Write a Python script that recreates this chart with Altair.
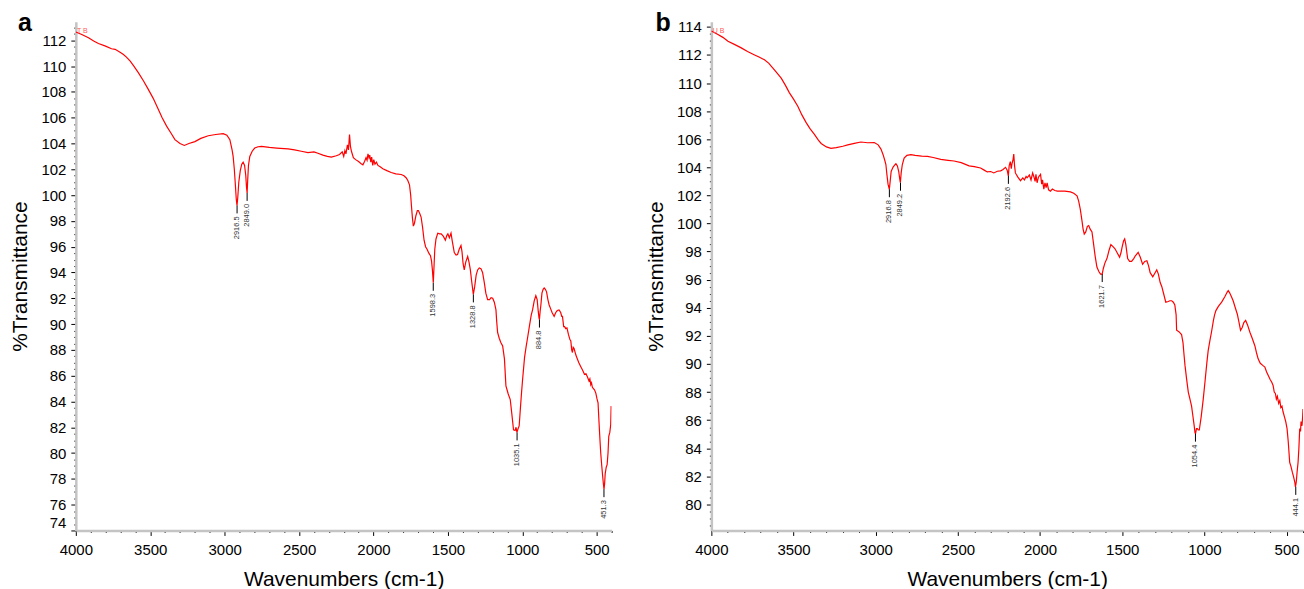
import math
import altair as alt
import pandas as pd

FONT = "Liberation Sans"

# ---- spectrum a : (wavenumber, %T) ----
a_spectrum = [
    (4000, 112.65), (3960, 112.45), (3915, 112.2), (3880, 111.95), (3848, 111.75), (3800, 111.55),
    (3760, 111.35), (3736, 111.3), (3700, 111.05), (3680, 110.9), (3660, 110.7), (3636, 110.4),
    (3610, 110.0), (3580, 109.5), (3545, 108.85), (3513, 108.2), (3480, 107.5), (3446, 106.65),
    (3420, 106.0), (3390, 105.35), (3360, 104.8), (3334, 104.3), (3300, 104.0), (3271, 103.85),
    (3240, 104.0), (3200, 104.15), (3160, 104.4), (3110, 104.6), (3060, 104.7), (3010, 104.77),
    (2985, 104.65), (2965, 104.3), (2950, 103.5), (2943, 103.0), (2935, 102.0), (2928, 100.8),
    (2922, 99.7), (2917, 99.2), (2912, 99.8), (2905, 101.0), (2895, 101.9), (2885, 102.4),
    (2876, 102.55), (2866, 102.3), (2858, 101.5), (2853, 100.6), (2849, 100.17), (2845, 101.2),
    (2840, 102.3), (2831, 103.0), (2815, 103.4), (2798, 103.65), (2775, 103.75), (2753, 103.78),
    (2700, 103.7), (2650, 103.65), (2600, 103.6), (2574, 103.58), (2530, 103.5), (2485, 103.4),
    (2440, 103.3), (2400, 103.35), (2373, 103.25), (2340, 103.1), (2310, 103.0), (2283, 102.95),
    (2250, 103.05), (2228, 103.15), (2210, 103.35), (2200, 103.0), (2192, 103.45), (2185, 103.2),
    (2175, 103.9), (2168, 103.5), (2161, 104.7), (2155, 103.8), (2148, 103.4), (2135, 102.9),
    (2120, 102.75), (2100, 102.6), (2085, 102.45), (2071, 102.35), (2060, 102.6), (2050, 102.9),
    (2043, 102.7), (2037, 103.2), (2030, 102.9), (2025, 103.1), (2018, 102.55), (2012, 102.95),
    (2005, 102.3), (1998, 102.75), (1990, 102.4), (1980, 102.55), (1970, 102.3), (1955, 102.2),
    (1937, 102.05), (1910, 101.9), (1881, 101.75), (1850, 101.65), (1814, 101.6), (1795, 101.5),
    (1781, 101.35), (1770, 101.15), (1758, 100.8), (1750, 100.0), (1745, 99.2), (1738, 98.2),
    (1732, 97.6), (1725, 97.8), (1715, 98.4), (1705, 98.8), (1698, 98.8), (1690, 98.6),
    (1680, 98.3), (1670, 97.5), (1660, 96.5), (1650, 96.0), (1640, 95.8), (1628, 95.5),
    (1617, 95.3), (1610, 94.9), (1604, 94.2), (1598, 93.2), (1593, 94.5), (1588, 95.8),
    (1580, 96.6), (1568, 97.05), (1555, 97.0), (1545, 97.0), (1530, 96.8), (1517, 96.5),
    (1508, 96.85), (1500, 97.0), (1490, 96.7), (1479, 97.05), (1470, 96.4), (1457, 95.55),
    (1445, 95.35), (1435, 95.4), (1424, 95.8), (1412, 96.1), (1405, 95.6), (1398, 94.7),
    (1390, 94.2), (1380, 94.8), (1367, 95.25), (1358, 94.8), (1349, 94.2), (1340, 93.3),
    (1329, 92.3), (1320, 92.9), (1310, 93.8), (1300, 94.2), (1289, 94.35), (1278, 94.3),
    (1267, 94.0), (1255, 93.2), (1245, 92.4), (1233, 91.9), (1220, 91.9), (1210, 92.05),
    (1199, 92.0), (1188, 91.7), (1177, 91.1), (1172, 90.2), (1166, 89.35), (1155, 88.9),
    (1145, 88.6), (1132, 88.3), (1120, 87.3), (1110, 85.2), (1095, 84.6), (1081, 84.15),
    (1070, 83.0), (1059, 81.8), (1048, 81.75), (1042, 82.0), (1036, 81.6), (1028, 81.9),
    (1021, 82.1), (1012, 83.6), (1005, 84.7), (998, 85.7), (985, 87.4), (975, 88.2),
    (965, 88.9), (950, 90.0), (940, 90.7), (931, 91.1), (920, 91.8), (909, 92.2),
    (900, 91.9), (893, 91.0), (888, 90.5), (885, 90.35), (880, 91.0), (875, 91.5),
    (868, 92.4), (860, 92.7), (853, 92.8), (845, 92.7), (837, 92.5), (828, 91.9),
    (820, 91.5), (810, 91.2), (800, 90.9), (793, 90.75), (786, 90.6), (775, 90.9),
    (765, 91.05), (753, 91.1), (742, 90.9), (735, 90.6), (730, 90.6), (722, 89.8),
    (716, 89.8), (708, 89.65), (700, 89.7), (690, 89.2), (680, 88.8), (674, 88.7),
    (668, 88.0), (663, 87.8), (658, 88.2), (652, 88.1), (640, 87.6), (630, 87.3),
    (620, 87.0), (607, 86.7), (598, 86.5), (590, 86.3), (582, 86.1), (572, 86.15),
    (562, 85.9), (552, 85.6), (546, 85.75), (540, 85.3), (535, 85.45), (529, 85.1),
    (522, 85.0), (515, 84.9), (506, 84.65), (498, 84.2), (491, 83.9), (485, 82.5),
    (478, 81.0), (473, 80.0), (466, 79.0), (460, 78.2), (455, 77.6), (451, 77.2),
    (447, 77.6), (443, 78.4), (436, 78.9), (430, 79.1), (424, 80.0), (419, 81.3),
    (412, 81.6), (406, 82.2), (403, 83.6), (400, 83.6),
]

# ---- spectrum b ----
b_spectrum = [
    (4000, 113.7), (3960, 113.45), (3930, 113.25), (3899, 112.97), (3860, 112.75), (3818, 112.5),
    (3780, 112.25), (3737, 112.0), (3710, 111.85), (3677, 111.65), (3650, 111.4), (3636, 111.2),
    (3610, 110.85), (3575, 110.35), (3550, 109.85), (3525, 109.3), (3500, 108.85), (3474, 108.35),
    (3450, 107.75), (3424, 107.2), (3400, 106.75), (3373, 106.35), (3350, 105.95), (3332, 105.7),
    (3300, 105.45), (3272, 105.35), (3240, 105.4), (3200, 105.5), (3170, 105.6), (3130, 105.7),
    (3090, 105.8), (3050, 105.75), (3009, 105.76), (2985, 105.6), (2968, 105.3), (2955, 104.9),
    (2945, 104.5), (2938, 104.2), (2932, 103.5), (2925, 102.8), (2917, 102.44), (2912, 103.0),
    (2906, 103.7), (2895, 104.0), (2885, 104.15), (2877, 104.25), (2868, 104.1), (2860, 103.7),
    (2854, 103.2), (2850, 102.9), (2845, 103.6), (2838, 104.2), (2827, 104.65), (2810, 104.85),
    (2786, 104.9), (2760, 104.85), (2720, 104.8), (2685, 104.78), (2650, 104.7), (2604, 104.57),
    (2560, 104.5), (2523, 104.45), (2480, 104.33), (2432, 104.1), (2400, 104.05), (2362, 103.95),
    (2340, 103.8), (2321, 103.67), (2300, 103.7), (2281, 103.6), (2260, 103.72), (2240, 103.75),
    (2225, 103.85), (2210, 104.0), (2200, 103.8), (2193, 103.39), (2188, 104.1), (2181, 104.4),
    (2175, 103.9), (2171, 104.25), (2165, 104.5), (2160, 104.95), (2155, 104.1), (2150, 103.6),
    (2135, 103.3), (2119, 103.05), (2105, 103.25), (2095, 103.1), (2085, 103.35), (2079, 103.25),
    (2065, 103.45), (2055, 103.1), (2045, 103.6), (2038, 103.35), (2030, 103.0), (2025, 103.5),
    (2018, 102.9), (2010, 103.3), (1997, 103.5), (1990, 102.8), (1985, 103.1), (1977, 102.45),
    (1970, 102.9), (1963, 102.55), (1957, 102.9), (1948, 102.4), (1937, 102.3), (1925, 102.45),
    (1910, 102.35), (1895, 102.3), (1876, 102.3), (1850, 102.3), (1815, 102.25), (1795, 102.15),
    (1775, 101.97), (1765, 101.6), (1755, 101.0), (1745, 100.2), (1738, 99.6), (1731, 99.25),
    (1722, 99.4), (1712, 99.8), (1704, 99.85), (1695, 99.6), (1684, 99.4), (1675, 98.6),
    (1665, 97.7), (1654, 96.9), (1643, 96.6), (1632, 96.4), (1622, 96.4), (1615, 96.8),
    (1605, 97.2), (1593, 97.5), (1580, 98.1), (1569, 98.5), (1556, 98.35), (1544, 98.2),
    (1530, 97.9), (1516, 97.6), (1508, 97.9), (1501, 98.3), (1492, 98.75), (1485, 98.9),
    (1478, 98.5), (1467, 97.5), (1455, 97.3), (1443, 97.3), (1430, 97.5), (1420, 97.7),
    (1403, 97.95), (1390, 97.6), (1376, 97.1), (1363, 97.3), (1350, 97.35), (1340, 97.0),
    (1330, 96.5), (1314, 96.2), (1300, 96.5), (1290, 96.7), (1280, 96.4), (1269, 95.8),
    (1259, 95.5), (1248, 95.0), (1235, 94.4), (1220, 94.45), (1210, 94.5), (1199, 94.5),
    (1189, 94.4), (1180, 94.2), (1172, 93.5), (1169, 92.4), (1155, 92.3), (1139, 92.1),
    (1130, 91.5), (1125, 90.8), (1118, 89.9), (1108, 88.9), (1098, 88.0), (1090, 87.6),
    (1078, 87.0), (1070, 86.3), (1062, 85.6), (1057, 85.1), (1054, 85.04), (1048, 85.4),
    (1043, 85.4), (1037, 85.3), (1031, 85.3), (1020, 86.2), (1007, 87.5), (995, 88.9),
    (985, 90.1), (977, 90.95), (966, 91.7), (957, 92.26), (945, 93.1), (938, 93.5),
    (930, 93.8), (915, 94.1), (895, 94.4), (875, 94.8), (862, 95.1), (855, 95.22),
    (848, 95.1), (838, 94.85), (825, 94.5), (812, 94.0), (800, 93.56), (790, 93.0),
    (780, 92.4), (770, 92.6), (760, 92.95), (749, 93.1), (738, 92.8), (723, 92.26),
    (708, 91.8), (693, 91.3), (683, 90.8), (673, 90.37), (660, 90.05), (645, 89.9),
    (632, 89.78), (622, 89.45), (612, 89.2), (600, 88.9), (590, 88.7), (582, 88.47),
    (575, 88.0), (568, 87.9), (562, 87.5), (556, 87.7), (548, 87.2), (541, 87.4),
    (535, 86.9), (528, 87.0), (521, 86.58), (512, 86.2), (505, 85.9), (497, 85.4),
    (490, 84.5), (481, 83.0), (473, 82.7), (465, 82.3), (458, 82.0), (450, 81.6),
    (446, 81.25), (441, 81.6), (436, 82.3), (430, 83.0), (425, 84.0), (420, 85.4),
    (415, 85.2), (412, 85.9), (406, 85.6), (402, 86.3), (400, 86.8),
]

# ---- peak labels ----
a_peak_wn = [2916.5, 2849.0, 1598.3, 1328.8, 1035.1, 884.8, 451.3]
a_peak_t = [99.2, 100.17, 93.2, 92.3, 81.6, 90.35, 77.2]
a_peak_lab = ["2916.5", "2849.0", "1598.3", "1328.8", "1035.1", "884.8", "451.3"]

b_peak_wn = [2916.8, 2849.2, 2192.6, 1621.7, 1054.4, 444.1]
b_peak_t = [102.44, 102.9, 103.39, 96.4, 85.04, 81.25]
b_peak_lab = ["2916.8", "2849.2", "2192.6", "1621.7", "1054.4", "444.1"]

a_ydomain = [74, 113.45]
b_ydomain = [78.15, 114.37]
x_domain = [4000, 400]
x_tick_values = list(range(400, 4001, 100))


def panel(spectrum, pk_wn, pk_t, pk_lab, ydom, tag, tag_t, letter, letter_dx, width):
    df = pd.DataFrame(spectrum, columns=["wn", "t"])
    pk = pd.DataFrame({"wn": pk_wn, "t": pk_t, "lab": pk_lab})
    tagdf = pd.DataFrame({"wn": [3992], "t": [tag_t], "lab": [tag]})
    y_vals = [v / 2 for v in range(math.ceil(ydom[0] * 2), math.floor(ydom[1] * 2) + 1)]

    xaxis = alt.Axis(
        values=x_tick_values,
        labelExpr="datum.value % 500 === 0 && datum.value > 400 ? '' + datum.value : ''",
        tickSize={"condition": {"test": "datum.value % 500 === 0", "value": 5}, "value": 2},
        labelFlush=False, labelOverlap=False, labelPadding=7,
        labelFont=FONT, labelFontSize=15, labelColor="#000",
        title="Wavenumbers (cm-1)", titleFont=FONT, titleFontSize=21,
        titleFontWeight="normal", titleColor="#000", titlePadding=11,
        domainColor="#c4c4c4", domainWidth=2.5, tickColor="#000", tickWidth=1, grid=False,
    )
    yaxis = alt.Axis(
        values=y_vals,
        labelExpr="datum.value % 2 === 0 ? '' + datum.value : ''",
        tickSize={"condition": {"test": "datum.value % 2 === 0", "value": 5}, "value": 2},
        labelFlush=True, labelOverlap=False, labelPadding=5,
        labelFont=FONT, labelFontSize=15, labelColor="#000",
        title="%Transmittance", titleFont=FONT, titleFontSize=21,
        titleFontWeight="normal", titleColor="#000", titlePadding=10,
        domainColor="#c4c4c4", domainWidth=2.5, tickColor="#000", tickWidth=1, grid=False,
    )
    x = alt.X("wn:Q", scale=alt.Scale(domain=x_domain, nice=False, zero=False), axis=xaxis)
    y = alt.Y("t:Q", scale=alt.Scale(domain=ydom, nice=False, zero=False), axis=yaxis)

    line = alt.Chart(df).mark_line(color="#ff0000", strokeWidth=1.2, clip=True).encode(x=x, y=y)
    rules = alt.Chart(pk).mark_rule(color="#000", strokeWidth=1, y2Offset=8).encode(
        x=x, y=y, y2="t:Q")
    labels = alt.Chart(pk).mark_text(
        angle=270, align="right", baseline="middle", yOffset=11,
        fontSize=7.5, font=FONT, color="#333").encode(x=x, y=y, text="lab:N")
    tagt = alt.Chart(tagdf).mark_text(
        align="left", baseline="middle", fontSize=7, font=FONT, color="#ff5a5a").encode(
        x=x, y=y, text="lab:N")

    return alt.layer(line, rules, labels, tagt).properties(
        width=width, height=510,
        title=alt.TitleParams(
            text=letter, anchor="start", frame="group", font=FONT, fontSize=25,
            fontWeight="bold", color="#000", dx=letter_dx, dy=36, offset=0,
            baseline="alphabetic"),
    )


pa = panel(a_spectrum, a_peak_wn, a_peak_t, a_peak_lab, a_ydomain, "T B", 112.75, "a", -58, 537)
pb = panel(b_spectrum, b_peak_wn, b_peak_t, b_peak_lab, b_ydomain, "U B", 113.7, "b", -56, 593)

chart = alt.hconcat(pa, pb, spacing=32).configure(
    padding={"left": 9, "top": 10, "right": 0, "bottom": 0}
).configure_view(stroke=None)

chart.save("out.html", embed_options={"renderer": "svg", "actions": False})
